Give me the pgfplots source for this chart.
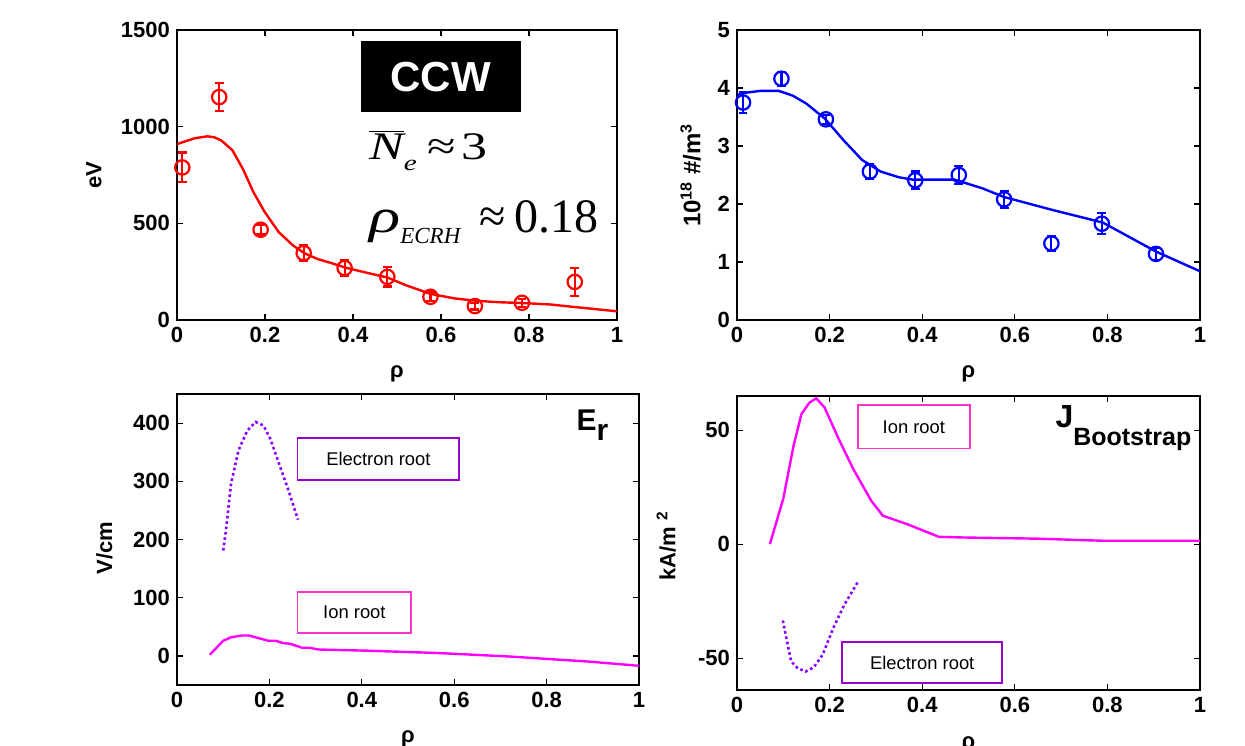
\documentclass[border=0pt]{standalone}
\usepackage{fontspec}
\setmainfont{Liberation Sans}
\newfontfamily\tnr{Liberation Serif}
\usepackage{graphicx}
\usepackage{pgfplots}
\usepackage{pgfplotstable}
\pgfplotsset{compat=1.18}

\definecolor{ionmag}{RGB}{255,0,255}
\definecolor{eldot}{RGB}{136,0,255}
\definecolor{elbox}{RGB}{153,0,204}
\definecolor{ionbox}{RGB}{255,51,204}

% measured data (Te in eV, ne in 1e18 m^-3)
\pgfplotstableread{
x     y     e
0.012 789   77
0.096 1153  72
0.190 467   25
0.288 346   40
0.381 269   40
0.478 223   50
0.576 120   22
0.677 72    18
0.784 89    20
0.904 197   72
}\tedata
\pgfplotstableread{
x     y     e
0.013 3.75  0.18
0.096 4.16  0.12
0.192 3.46  0.08
0.287 2.56  0.12
0.385 2.41  0.15
0.479 2.50  0.15
0.577 2.08  0.15
0.679 1.32  0.12
0.788 1.66  0.18
0.905 1.14  0.10
}\nedata

\pgfplotsset{
  panel/.style={
    scale only axis, anchor=south west,
    xmin=0, xmax=1,
    xtick={0,0.2,0.4,0.6,0.8,1},
    axis line style={line width=0.8pt},
    every tick/.style={black, line width=0.6pt},
    major tick length=3pt,
    tick label style={font=\fontsize{11}{13}\selectfont\bfseries},
    label style={font=\fontsize{11}{13}\selectfont\bfseries},
    /pgf/number format/assume math mode=true,
    /pgf/number format/1000 sep={},
    xlabel={ρ},
    xlabel style={at={(axis description cs:0.5,-0.185)}, anchor=center},
  },
  ebar/.style={
    only marks, mark=o, mark size=3.6pt,
    mark options={line width=1.1pt},
    error bars/y dir=both, error bars/y explicit,
    error bars/error bar style={line width=1.1pt},
    error bars/error mark options={line width=1.1pt, mark size=2.2pt, rotate=90},
  },
}

\begin{document}
\begin{tikzpicture}
\path[use as bounding box] (0,0) rectangle (622.5pt,372.5pt);

% ---------------- top left: Te ----------------
\begin{axis}[panel,
  at={(88.5pt,212.5pt)}, width=220pt, height=145pt,
  ymin=0, ymax=1500, ytick={0,500,1000,1500},
  ylabel={eV},
  ylabel style={at={(axis description cs:-0.189,0.5)}, anchor=center},
]
\addplot[red, line width=1.2pt] coordinates {
  (0,910)(0.02,925)(0.04,940)(0.069,950)(0.085,945)(0.101,928)(0.126,878)
  (0.15,780)(0.174,660)(0.199,560)(0.231,455)(0.264,385)(0.29,345)(0.32,315)
  (0.35,295)(0.381,272)(0.43,245)(0.478,220)(0.52,180)(0.576,135)(0.63,112)
  (0.677,100)(0.73,92)(0.784,88)(0.85,80)(0.9,68)(1,45)
};
\addplot[red, ebar] table[x=x, y=y, y error=e] {\tedata};
\fill[black] (axis cs:0.418,1075) rectangle (axis cs:0.781,1444);
\node[white] at (axis cs:0.5995,1259) {\fontsize{21}{23}\selectfont\bfseries CCW};
\node[anchor=base west, inner sep=0pt] at (axis cs:0.436,828)
  {\scalebox{1.33}[1]{\fontsize{19.5}{21}\selectfont\tnr
   $\overline{\hbox{\itshape N}}$\raisebox{-5.5pt}{\fontsize{11}{12}\selectfont\itshape e}\hspace{4pt}≈\hspace{2pt}3}};
\node[anchor=base west, inner sep=0pt] at (axis cs:0.436,455)
  {\fontsize{24}{26}\selectfont\tnr\scalebox{1.35}[1]{\itshape ρ}\raisebox{-5.5pt}{\fontsize{11.5}{13}\selectfont\itshape ECRH}\hspace{9.5pt}≈\hspace{4.5pt}0.18};
\end{axis}

% ---------------- top right: ne ----------------
\begin{axis}[panel,
  at={(368.5pt,212.5pt)}, width=231.5pt, height=145pt,
  ymin=0, ymax=5, ytick={0,1,2,3,4,5},
  ylabel={10\textsuperscript{18} \#/m\textsuperscript{3}},
  ylabel style={at={(axis description cs:-0.1,0.5)}, anchor=center,
    font=\fontsize{12}{14}\selectfont\bfseries},
]
\addplot[blue, line width=1.2pt] coordinates {
  (0,3.88)(0.02,3.92)(0.05,3.95)(0.09,3.95)(0.12,3.87)(0.15,3.73)(0.19,3.47)
  (0.23,3.10)(0.27,2.76)(0.31,2.56)(0.35,2.46)(0.38,2.42)(0.47,2.42)(0.53,2.27)
  (0.577,2.12)(0.68,1.90)(0.79,1.68)(0.905,1.18)(1,0.84)
};
\addplot[blue, ebar] table[x=x, y=y, y error=e] {\nedata};
\end{axis}

% ---------------- bottom left: Er ----------------
\begin{axis}[panel,
  at={(88.5pt,30pt)}, width=231pt, height=145.5pt,
  ymin=-50, ymax=450, ytick={0,100,200,300,400},
  ylabel={V/cm},
  ylabel style={at={(axis description cs:-0.157,0.47)}, anchor=center},
]
\addplot[ionmag, line width=1.2pt] coordinates {
  (0.071,2)(0.1,26)(0.117,32)(0.14,35)(0.156,35)(0.179,30)(0.198,26)(0.214,26)
  (0.229,22)(0.244,21)(0.271,14)(0.287,14)(0.306,11)(0.41,9)(0.564,5)
  (0.719,-1)(0.896,-10)(1,-17)
};
\addplot[eldot, line width=1.3pt, dash pattern=on 1.3pt off 1.4pt] coordinates {
  (0.1,181)(0.106,216)(0.117,296)(0.133,353)(0.152,387)(0.170,402)(0.187,396)
  (0.202,373)(0.221,330)(0.241,285)(0.262,234)
};
\draw[elbox, line width=0.9pt] (axis cs:0.261,302) rectangle (axis cs:0.611,374);
\node at (axis cs:0.436,338) {\fontsize{9.2}{11}\selectfont Electron root};
\draw[ionbox, line width=0.9pt] (axis cs:0.261,39.5) rectangle (axis cs:0.507,110);
\node at (axis cs:0.384,75) {\fontsize{9.2}{11}\selectfont Ion root};
\node[anchor=base west, inner sep=0pt] at (axis cs:0.864,387)
  {\fontsize{15}{17}\selectfont\bfseries E\raisebox{-4.7pt}{r}};
\end{axis}

% ---------------- bottom right: J bootstrap ----------------
\begin{axis}[panel,
  at={(368.5pt,27.5pt)}, width=231.5pt, height=147pt,
  ymin=-64, ymax=65, ytick={-50,0,50},
  ylabel={kA/m\textsuperscript{\hspace{3pt}2}},
  ylabel style={at={(axis description cs:-0.153,0.49)}, anchor=center},
]
\addplot[ionmag, line width=1.2pt] coordinates {
  (0.071,0)(0.1,20)(0.122,43)(0.139,57)(0.156,62)(0.171,64)(0.189,60)(0.22,46)
  (0.251,33)(0.29,19)(0.315,12.5)(0.371,8.5)(0.436,3.2)(0.494,2.9)(0.649,2.4)
  (0.788,1.5)(1,1.5)
};
\addplot[eldot, line width=1.3pt, dash pattern=on 1.3pt off 1.4pt] coordinates {
  (0.099,-33.5)(0.108,-42.6)(0.117,-51.5)(0.131,-54.4)(0.148,-55.9)(0.166,-54)
  (0.185,-48.5)(0.208,-36.8)(0.232,-26.5)(0.263,-15.9)
};
\draw[ionbox, line width=0.9pt] (axis cs:0.261,42) rectangle (axis cs:0.503,61);
\node at (axis cs:0.382,51.5) {\fontsize{9.2}{11}\selectfont Ion root};
\draw[elbox, line width=0.9pt] (axis cs:0.226,-61) rectangle (axis cs:0.573,-43);
\node at (axis cs:0.4,-52) {\fontsize{9.2}{11}\selectfont Electron root};
\node[anchor=base west, inner sep=0pt] at (axis cs:0.687,51.4)
  {\fontsize{16}{18}\selectfont\bfseries J\raisebox{-9.5pt}{\fontsize{12.5}{14}\selectfont Bootstrap}};
\end{axis}
\end{tikzpicture}
\end{document}
